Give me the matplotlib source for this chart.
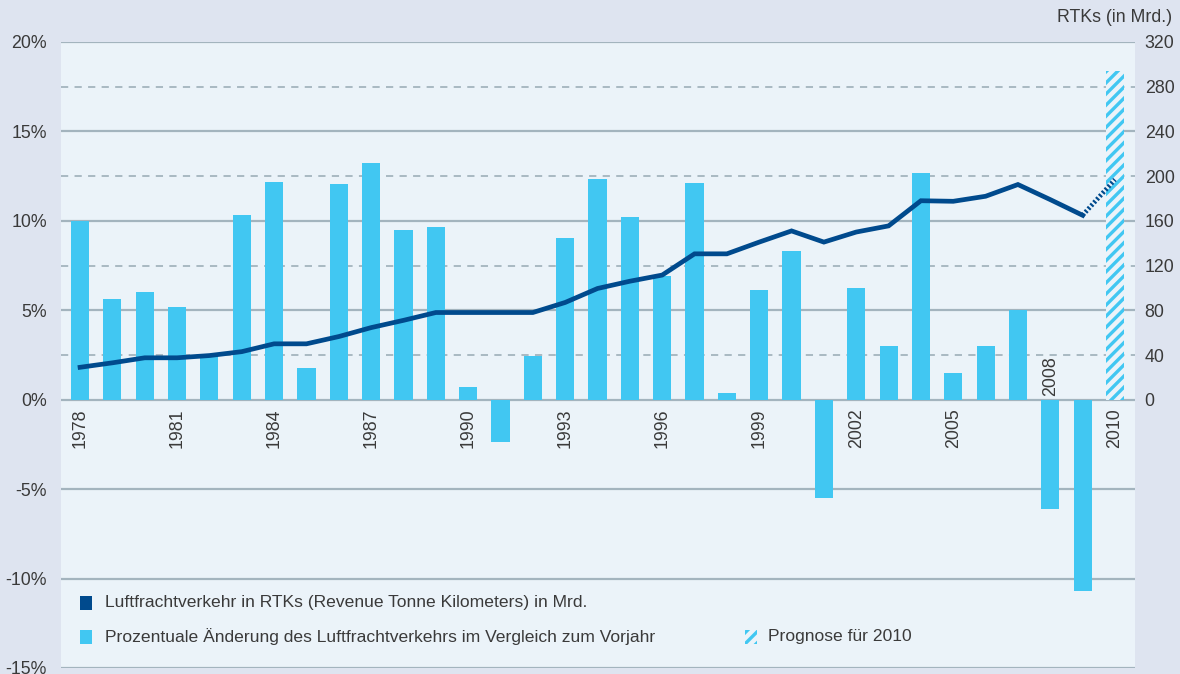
import matplotlib
matplotlib.use("Agg")
import matplotlib.pyplot as plt
from matplotlib.patches import Rectangle
from matplotlib.transforms import offset_copy

plt.rcParams['font.family'] = ['Liberation Sans', 'DejaVu Sans']
plt.rcParams['hatch.linewidth'] = 2.4

# ---------------- data ----------------
years = list(range(1978, 2010))
pct_change = [10.0, 5.65, 6.0, 5.2, 2.45, 10.35, 12.15, 1.75, 12.05, 13.25,
              9.5, 9.65, 0.7, -2.35, 2.45, 9.05, 12.35, 10.2, 6.9, 12.1,
              0.35, 6.15, 8.3, -5.5, 6.25, 3.0, 12.65, 1.5, 3.0, 5.0,
              -6.1, -10.7]
rtk = [29, 33, 37.5, 37.5, 39.5, 43, 50, 50, 56.5, 64.5,
       71, 78, 78, 78, 78, 87, 99.5, 106, 111.5, 130.5,
       130.5, 141, 151, 141, 150, 155.5, 178, 177.5, 182, 192.5,
       179, 165]
forecast_year = 2010
forecast_pct = 18.4
forecast_rtk = 197

label_years = [1978, 1981, 1984, 1987, 1990, 1993, 1996, 1999, 2002, 2005, 2008, 2010]
left_ticks = [-15, -10, -5, 0, 5, 10, 15, 20]
left_labels = ['-15%', '-10%', '-5%', '0%', '5%', '10%', '15%', '20%']
right_ticks = [0, 40, 80, 120, 160, 200, 240, 280, 320]
dashed_levels = [2.5, 7.5, 12.5, 17.5]

legend_line = 'Luftfrachtverkehr in RTKs (Revenue Tonne Kilometers) in Mrd.'
legend_bar = 'Prozentuale Änderung des Luftfrachtverkehrs im Vergleich zum Vorjahr'
legend_fc = 'Prognose für 2010'
right_title = 'RTKs (in Mrd.)'

# ---------------- style ----------------
outer_bg = '#dee4f0'
plot_bg = '#ebf3f9'
bar_c = '#41c7f2'
line_c = '#004a8d'
grid_c = '#a3b4be'
txt_c = '#3a3a3a'
fs = 12.8
fs_leg = 12.6

W, H = 1180, 674
fig = plt.figure(figsize=(W / 100, H / 100), dpi=100, facecolor=outer_bg)
x0, x1 = 61, 1135
y_top, y_bot = 42, 668
ax = fig.add_axes([x0 / W, (H - y_bot) / H, (x1 - x0) / W, (y_bot - y_top) / H])
ax.set_facecolor(plot_bg)
ax.set_ylim(-15, 20)
ax.set_xlim(1977.41, 2010.62)

for s in ax.spines.values():
    s.set_visible(False)

# grid
for v in left_ticks:
    ax.axhline(v, color=grid_c, lw=1.6, zorder=1)
for v in dashed_levels:
    ax.axhline(v, color=grid_c, lw=1.3, ls=(0, (4, 3.5)), zorder=1)

bw = 0.56
ax.bar(years, pct_change, width=bw, color=bar_c, zorder=2, linewidth=0)
ax.bar([forecast_year], [forecast_pct], width=bw, facecolor=plot_bg,
       edgecolor=bar_c, hatch='///', linewidth=0, zorder=2)

ax.set_yticks(left_ticks)
ax.set_yticklabels(left_labels)
ax.tick_params(axis='y', length=0, pad=10, labelsize=fs, labelcolor=txt_c)
ax.set_xticks([])

# year labels
below = offset_copy(ax.transData, fig=fig, x=0, y=-9, units='dots')
above = offset_copy(ax.transData, fig=fig, x=0, y=4, units='dots')
for yr in label_years:
    if yr == 2008:
        ax.text(yr, 0, str(yr), rotation=90, ha='center', va='bottom',
                fontsize=fs, color=txt_c, transform=above, zorder=3)
    else:
        ax.text(yr, 0, str(yr), rotation=90, ha='center', va='top',
                fontsize=fs, color=txt_c, transform=below, zorder=3)

# right axis
ax2 = ax.twinx()
ax2.set_ylim(-15 * 16, 20 * 16)
for s in ax2.spines.values():
    s.set_visible(False)
ax2.set_yticks(right_ticks)
ax2.set_yticklabels([str(v) for v in right_ticks])
ax2.tick_params(axis='y', length=0, pad=7, labelsize=fs, labelcolor=txt_c)
ax2.plot(years, rtk, color=line_c, lw=3.4, solid_joinstyle='miter', zorder=5)
ax2.plot([years[-1], forecast_year], [rtk[-1], forecast_rtk], color=line_c,
         lw=3.4, ls=(0, (0.45, 0.45)), zorder=5)

fig.text(1172 / W, (H - 18) / H, right_title, ha='right', va='center',
         fontsize=fs, color=txt_c)

# legend
def fx(px):
    return px / W

def fy(py):
    return (H - py) / H

sq_w, sq_h = 12, 14
fig.add_artist(Rectangle((fx(80), fy(610)), sq_w / W, sq_h / H, transform=fig.transFigure,
                         facecolor=line_c, edgecolor='none'))
fig.text(fx(105), fy(603), legend_line, ha='left', va='center', fontsize=fs_leg, color=txt_c)
fig.add_artist(Rectangle((fx(80), fy(644)), sq_w / W, sq_h / H, transform=fig.transFigure,
                         facecolor=bar_c, edgecolor='none'))
fig.text(fx(105), fy(637), legend_bar, ha='left', va='center', fontsize=fs_leg, color=txt_c)
fig.add_artist(Rectangle((fx(745), fy(644)), sq_w / W, sq_h / H, transform=fig.transFigure,
                         facecolor=plot_bg, edgecolor=bar_c, hatch='///', linewidth=0))
fig.text(fx(768), fy(637), legend_fc, ha='left', va='center', fontsize=fs_leg, color=txt_c)

fig.savefig('out.png', dpi=100, facecolor=outer_bg)
